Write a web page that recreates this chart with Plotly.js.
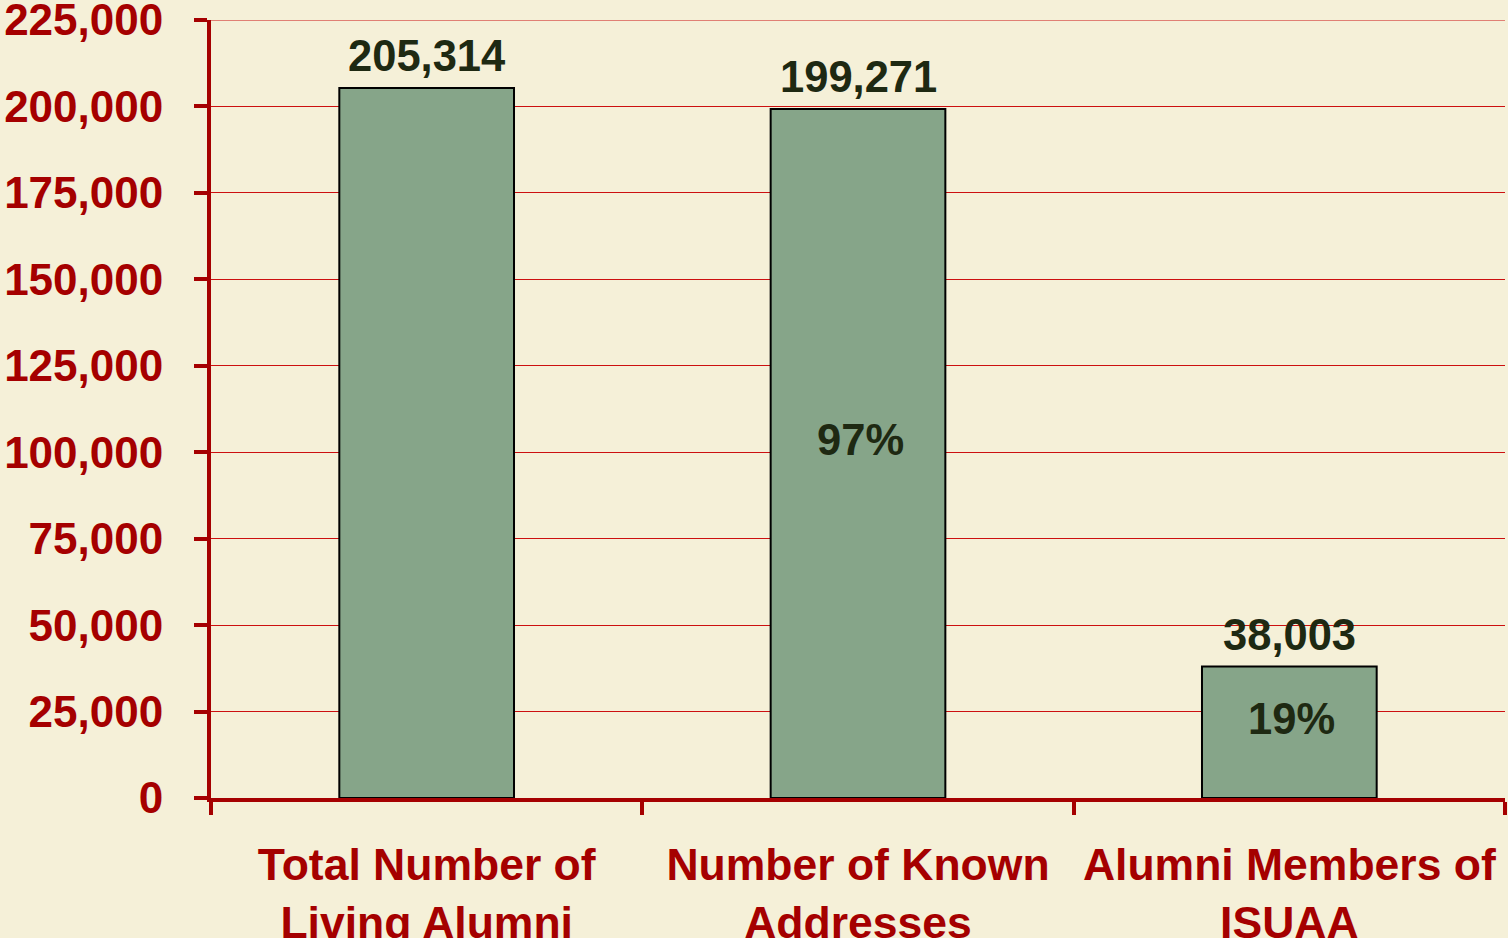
<!DOCTYPE html>
<html>
<head>
<meta charset="utf-8">
<script src="https://cdn.plot.ly/plotly-3.0.1.min.js"></script>
<style>html,body{margin:0;padding:0;background:#F5F0D8;}#chart{width:1508px;height:938px;}</style>
</head>
<body>
<div id="chart"></div>
<script>
const categories = ["Total Number of<br>Living Alumni", "Number of Known<br>Addresses", "Alumni Members of<br>ISUAA"];
const values = [205314, 199271, 38003];
const valueLabels = ["205,314", "199,271", "38,003"];
const percentLabels = ["", "97%", "19%"];
const yTicks = [0, 25000, 50000, 75000, 100000, 125000, 150000, 175000, 200000, 225000];

const FONT = "Liberation Sans, Arial, sans-serif";
const RED = "#A50000";
const DARK = "#1E2912";

const trace = {
  type: "bar",
  x: categories,
  y: values,
  marker: {color: "#86A589", line: {color: "#000000", width: 2}},
  hoverinfo: "none"
};

const valueAnn = categories.map((c, i) => ({
  x: c, y: values[i], xref: "x", yref: "y",
  text: "<b>" + valueLabels[i] + "</b>",
  showarrow: false, yanchor: "bottom", yshift: 6,
  font: {family: FONT, size: 43.5, color: DARK}
}));
const pctAnn = categories.map((c, i) => ({
  x: c, y: values[i] / 2, xref: "x", yref: "y",
  text: percentLabels[i] ? "<b>" + percentLabels[i] + "</b>" : "",
  showarrow: false, yanchor: "middle", yshift: 13, xshift: 2,
  font: {family: FONT, size: 43.5, color: DARK}
})).filter(a => a.text);

const layout = {
  width: 1508, height: 938,
  paper_bgcolor: "#F5F0D8", plot_bgcolor: "#F5F0D8",
  margin: {l: 211, r: 3, t: 20, b: 140},
  bargap: 0.595,
  showlegend: false,
  font: {family: FONT, color: RED},
  xaxis: {
    type: "category",
    showline: true, linecolor: RED, linewidth: 4,
    ticks: "outside", tickson: "boundaries", ticklen: 13, tickwidth: 4, tickcolor: RED,
    tickfont: {family: FONT, size: 44.5, color: RED, weight: "bold"},
    ticklabelstandoff: 25,
    showgrid: false, zeroline: false, fixedrange: true
  },
  yaxis: {
    range: [0, 225000],
    tickvals: yTicks,
    tickformat: ",d",
    showline: true, linecolor: RED, linewidth: 4,
    ticks: "outside", ticklen: 13, tickwidth: 4, tickcolor: RED,
    tickfont: {family: FONT, size: 44, color: RED, weight: "bold"},
    ticklabelstandoff: 22,
    ticklabeloverflow: "allow",
    showgrid: true, gridcolor: "#CC1010", gridwidth: 1,
    zeroline: false, fixedrange: true
  },
  shapes: [{
    type: "line", xref: "paper", yref: "y",
    x0: 0, x1: 1, y0: yTicks[yTicks.length - 1], y1: yTicks[yTicks.length - 1],
    line: {color: "#CC1010", width: 1}, layer: "below"
  }],
  annotations: valueAnn.concat(pctAnn)
};

Plotly.newPlot("chart", [trace], layout, {displayModeBar: false, staticPlot: true});
</script>
</body>
</html>
